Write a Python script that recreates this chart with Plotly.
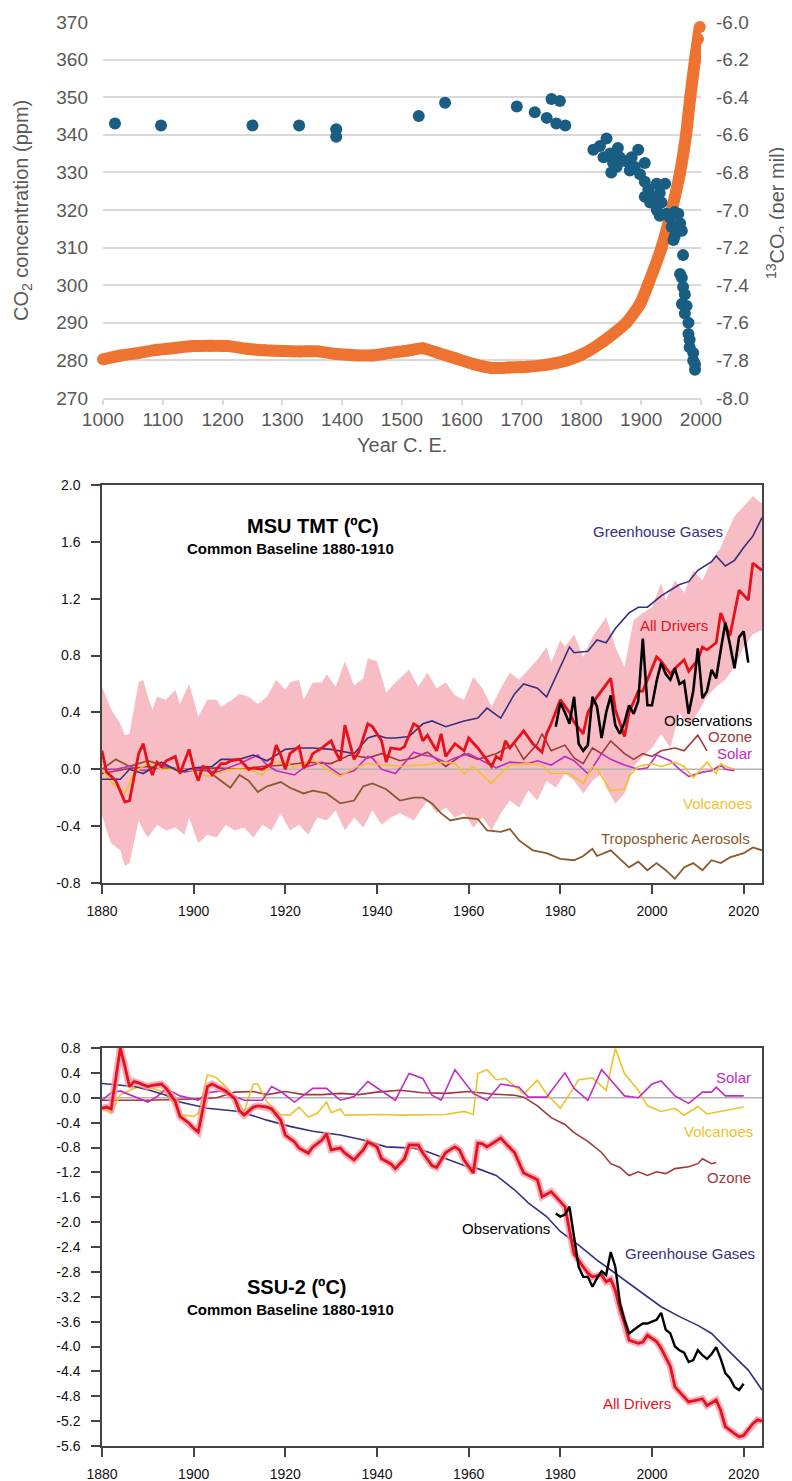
import plotly.graph_objects as go

# ---------------- Panel 1: CO2 and 13CO2 ----------------
co2_years = [1000, 1030, 1060, 1090, 1120, 1150, 1180, 1210, 1240, 1270, 1300, 1330, 1360, 1390,
             1420, 1450, 1480, 1510, 1535, 1560, 1590, 1620, 1650, 1680, 1710, 1740, 1775, 1800,
             1836, 1875, 1898, 1911, 1934, 1951, 1965, 1975, 1982, 1990, 1995, 1998]
co2_ppm = [280.3, 281.3, 282.0, 282.8, 283.3, 283.8, 283.9, 283.8, 283.1, 282.7, 282.5, 282.4, 282.4, 281.7,
           281.4, 281.3, 282.0, 282.6, 283.2, 282.0, 280.5, 279.0, 278.0, 278.1, 278.3, 278.8, 280.0, 281.5,
           285.0, 290.0, 295.0, 300.0, 310.0, 320.0, 330.0, 340.0, 350.0, 360.0, 365.5, 368.7]

d13c_years = [1020, 1097, 1250, 1328, 1390, 1390, 1528, 1572, 1692, 1722, 1750, 1764, 1742, 1758, 1773,
              1820, 1831, 1842, 1837, 1848, 1853, 1850, 1861, 1864, 1859, 1873, 1884, 1881, 1889, 1895,
              1906, 1898, 1906, 1912, 1906, 1915, 1926, 1940, 1931, 1923, 1934, 1926, 1931, 1942, 1948,
              1956, 1962, 1951, 1959, 1965, 1956, 1954, 1968, 1970, 1965, 1968, 1970, 1973, 1968, 1976,
              1973, 1979, 1979, 1981, 1981, 1987, 1987, 1990, 1990]
d13c_vals = [-6.54, -6.55, -6.55, -6.55, -6.57, -6.61, -6.50, -6.43, -6.45, -6.48, -6.41, -6.42, -6.51, -6.54, -6.55,
             -6.68, -6.66, -6.62, -6.72, -6.70, -6.75, -6.80, -6.67, -6.72, -6.77, -6.74, -6.72, -6.79, -6.77, -6.68,
             -6.75, -6.81, -6.85, -6.89, -6.93, -6.96, -6.86, -6.86, -6.91, -6.93, -6.96, -7.00, -7.03, -7.02, -7.04,
             -7.01, -7.02, -7.09, -7.09, -7.07, -7.14, -7.16, -7.11, -7.24, -7.34, -7.36, -7.41, -7.45, -7.50, -7.51,
             -7.55, -7.60, -7.66, -7.69, -7.73, -7.76, -7.80, -7.82, -7.85]

top_xticks = [1000, 1100, 1200, 1300, 1400, 1500, 1600, 1700, 1800, 1900, 2000]
top_left_ticks = [270, 280, 290, 300, 310, 320, 330, 340, 350, 360, 370]
top_right_ticks = [-8.0, -7.8, -7.6, -7.4, -7.2, -7.0, -6.8, -6.6, -6.4, -6.2, -6.0]

# ---------------- Panel 2: MSU TMT ----------------
tmt_band_up_years = [1880, 1882, 1884, 1885, 1886, 1888, 1889, 1890, 1891, 1892, 1894, 1896, 1897, 1899, 1900,
                     1901, 1903, 1905, 1906, 1908, 1910, 1912, 1914, 1916, 1918, 1920, 1921, 1923, 1924, 1926,
                     1928, 1929, 1931, 1933, 1935, 1937, 1938, 1940, 1942, 1944, 1947, 1949, 1951, 1953, 1955,
                     1957, 1959, 1961, 1963, 1965, 1967, 1969, 1971, 1973, 1975, 1977, 1978, 1980, 1981, 1983,
                     1985, 1987, 1989, 1990, 1992, 1994, 1996, 1998, 2000, 2002, 2003, 2005, 2007, 2009, 2011,
                     2013, 2015, 2016, 2018, 2020, 2021, 2022, 2024]
tmt_band_up = [0.58, 0.42, 0.32, 0.24, 0.25, 0.61, 0.63, 0.51, 0.42, 0.51, 0.49, 0.56, 0.46, 0.60, 0.49,
               0.37, 0.49, 0.49, 0.44, 0.48, 0.53, 0.51, 0.46, 0.51, 0.63, 0.56, 0.61, 0.63, 0.49, 0.61,
               0.61, 0.67, 0.58, 0.76, 0.59, 0.64, 0.78, 0.76, 0.54, 0.61, 0.70, 0.58, 0.68, 0.57, 0.61,
               0.52, 0.49, 0.65, 0.57, 0.44, 0.57, 0.68, 0.63, 0.70, 0.77, 0.86, 0.75, 0.91, 0.86, 0.95,
               0.79, 0.93, 1.02, 1.07, 0.86, 0.72, 1.05, 1.10, 1.14, 1.31, 1.19, 1.33, 1.24, 1.40, 1.33,
               1.47, 1.56, 1.64, 1.78, 1.85, 1.89, 1.92, 1.87]
tmt_band_lo_years = [1880, 1881, 1882, 1884, 1885, 1886, 1888, 1889, 1890, 1892, 1894, 1896, 1898, 1899, 1901,
                     1903, 1905, 1907, 1909, 1911, 1913, 1915, 1917, 1919, 1921, 1923, 1925, 1927, 1929, 1931,
                     1933, 1935, 1937, 1939, 1941, 1943, 1945, 1948, 1951, 1953, 1955, 1957, 1959, 1961, 1963,
                     1965, 1967, 1969, 1971, 1973, 1975, 1977, 1979, 1981, 1983, 1985, 1987, 1989, 1990, 1992,
                     1994, 1996, 1998, 2000, 2002, 2004, 2006, 2008, 2010, 2012, 2014, 2016, 2018, 2020, 2022,
                     2024]
tmt_band_lo = [-0.32, -0.43, -0.52, -0.57, -0.68, -0.66, -0.36, -0.43, -0.48, -0.39, -0.43, -0.41, -0.46, -0.34, -0.52,
               -0.46, -0.48, -0.39, -0.43, -0.41, -0.48, -0.39, -0.43, -0.31, -0.43, -0.39, -0.46, -0.34, -0.36, -0.29,
               -0.43, -0.34, -0.41, -0.29, -0.39, -0.34, -0.31, -0.36, -0.22, -0.31, -0.27, -0.34, -0.31, -0.41, -0.34,
               -0.43, -0.31, -0.22, -0.27, -0.15, -0.22, -0.08, -0.13, -0.03, -0.08, -0.17, -0.08, -0.03, -0.13, -0.24,
               -0.17, 0.02, 0.09, 0.15, 0.25, 0.15, 0.40, 0.30, 0.40, 0.51, 0.58, 0.63, 0.72, 0.86, 0.95,
               0.98]

tmt_all_years = [1880, 1881, 1883, 1885, 1886, 1888, 1889, 1890, 1891, 1892, 1893, 1894, 1896, 1897, 1899,
                 1900, 1901, 1902, 1903, 1904, 1906, 1907, 1908, 1910, 1912, 1913, 1915, 1917, 1918, 1919,
                 1920, 1921, 1923, 1924, 1925, 1926, 1928, 1930, 1931, 1932, 1933, 1935, 1936, 1938, 1939,
                 1941, 1942, 1943, 1945, 1946, 1948, 1949, 1950, 1951, 1953, 1954, 1955, 1957, 1959, 1960,
                 1962, 1964, 1965, 1966, 1967, 1968, 1969, 1972, 1974, 1976, 1977, 1978, 1980, 1982, 1983,
                 1985, 1986, 1988, 1991, 1992, 1994, 1995, 1997, 1998, 1999, 2001, 2002, 2004, 2005, 2007,
                 2008, 2010, 2011, 2012, 2014, 2015, 2017, 2019, 2021, 2022, 2024]
tmt_all = [0.13, -0.02, -0.08, -0.23, -0.22, 0.11, 0.18, 0.04, -0.04, 0.05, 0.02, 0.06, 0.09, -0.03, 0.14,
           0.01, -0.08, 0.02, 0.01, -0.04, 0.04, 0.04, 0.06, 0.07, 0.00, 0.01, 0.00, 0.04, 0.17, 0.10,
           0.00, 0.11, 0.16, 0.01, 0.04, 0.11, 0.15, 0.20, 0.12, 0.06, 0.31, 0.07, 0.12, 0.32, 0.30,
           0.20, 0.05, 0.15, 0.14, 0.16, 0.32, 0.30, 0.20, 0.24, 0.13, 0.25, 0.09, 0.18, 0.13, 0.22,
           0.15, 0.06, 0.02, 0.09, 0.07, 0.20, 0.15, 0.27, 0.18, 0.12, 0.25, 0.32, 0.49, 0.40, 0.33,
           0.25, 0.40, 0.51, 0.64, 0.42, 0.23, 0.40, 0.55, 0.55, 0.63, 0.79, 0.76, 0.67, 0.71, 0.77,
           0.69, 0.77, 0.86, 0.84, 0.89, 1.10, 0.94, 1.26, 1.19, 1.45, 1.40]

tmt_ghg_years = [1880, 1884, 1886, 1889, 1893, 1897, 1900, 1904, 1906, 1910, 1913, 1916, 1920, 1923, 1926,
                 1930, 1935, 1938, 1940, 1942, 1944, 1947, 1950, 1952, 1955, 1959, 1962, 1964, 1967, 1970,
                 1972, 1975, 1977, 1979, 1982, 1983, 1986, 1988, 1990, 1992, 1995, 1997, 1999, 2002, 2004,
                 2006, 2008, 2010, 2013, 2014, 2016, 2018, 2020, 2022, 2024]
tmt_ghg = [-0.07, -0.07, 0.00, -0.03, 0.05, -0.02, 0.01, 0.02, 0.07, 0.07, 0.10, 0.06, 0.14, 0.15, 0.15,
           0.14, 0.11, 0.22, 0.24, 0.22, 0.22, 0.23, 0.32, 0.34, 0.30, 0.34, 0.36, 0.43, 0.36, 0.53,
           0.60, 0.57, 0.51, 0.65, 0.86, 0.82, 0.83, 0.91, 0.89, 0.99, 1.10, 1.14, 1.14, 1.22, 1.26,
           1.30, 1.32, 1.40, 1.46, 1.50, 1.43, 1.47, 1.56, 1.64, 1.77]

tmt_aer_years = [1880, 1883, 1886, 1890, 1894, 1898, 1903, 1906, 1908, 1910, 1912, 1914, 1916, 1919, 1921,
                 1924, 1926, 1929, 1932, 1935, 1937, 1939, 1942, 1945, 1948, 1950, 1952, 1954, 1956, 1959,
                 1962, 1964, 1967, 1969, 1971, 1974, 1977, 1980, 1983, 1985, 1987, 1988, 1991, 1993, 1995,
                 1997, 1999, 2001, 2003, 2005, 2007, 2009, 2011, 2013, 2015, 2017, 2020, 2022, 2024]
tmt_aer = [0.00, 0.07, 0.02, 0.06, 0.02, -0.01, -0.01, -0.08, -0.13, -0.04, -0.08, -0.16, -0.12, -0.09, -0.13,
           -0.17, -0.15, -0.17, -0.24, -0.22, -0.12, -0.10, -0.14, -0.22, -0.20, -0.20, -0.24, -0.31, -0.36, -0.34,
           -0.35, -0.43, -0.44, -0.42, -0.50, -0.57, -0.59, -0.63, -0.64, -0.61, -0.56, -0.61, -0.57, -0.63, -0.69,
           -0.65, -0.71, -0.66, -0.71, -0.77, -0.69, -0.66, -0.71, -0.64, -0.66, -0.62, -0.59, -0.55, -0.57]

tmt_oz_years = [1880, 1885, 1890, 1895, 1900, 1905, 1910, 1915, 1920, 1925, 1930, 1934, 1938, 1941, 1945,
                1948, 1951, 1955, 1959, 1962, 1966, 1970, 1972, 1975, 1976, 1978, 1981, 1983, 1985, 1987,
                1989, 1991, 1994, 1996, 1998, 2000, 2002, 2005, 2007, 2009, 2010, 2012]
tmt_oz = [-0.03, 0.00, 0.02, 0.00, 0.00, 0.01, 0.00, 0.02, 0.03, 0.05, 0.04, 0.10, 0.08, 0.11, 0.06,
          0.08, 0.12, 0.02, 0.11, 0.07, 0.11, 0.18, 0.07, 0.18, 0.25, 0.13, 0.17, 0.08, 0.04, 0.15,
          0.11, 0.20, 0.11, 0.07, 0.11, 0.09, 0.13, 0.15, 0.13, 0.20, 0.24, 0.13]

tmt_sol_years = [1880, 1883, 1886, 1889, 1894, 1898, 1901, 1905, 1910, 1914, 1916, 1918, 1922, 1924, 1928,
                 1932, 1935, 1938, 1939, 1941, 1944, 1948, 1950, 1952, 1955, 1957, 1960, 1963, 1966, 1969,
                 1973, 1975, 1978, 1981, 1983, 1986, 1987, 1989, 1991, 1994, 1997, 1999, 2001, 2004, 2006,
                 2008, 2011, 2013, 2015, 2016, 2018]
tmt_sol = [0.00, 0.00, 0.02, -0.01, 0.02, -0.02, 0.00, -0.02, 0.04, 0.10, 0.03, -0.01, -0.04, 0.01, 0.05,
           -0.04, -0.01, 0.09, 0.08, 0.00, -0.03, 0.12, 0.10, 0.09, 0.05, 0.08, 0.11, 0.06, 0.01, 0.05,
           0.04, 0.06, 0.03, 0.09, 0.06, -0.03, 0.01, 0.11, 0.07, 0.03, 0.00, 0.01, 0.10, 0.06, 0.00,
           -0.05, -0.02, -0.01, 0.03, 0.00, -0.01]

tmt_vol_years = [1880, 1882, 1885, 1887, 1890, 1893, 1897, 1900, 1903, 1905, 1908, 1912, 1915, 1917, 1920,
                 1922, 1926, 1929, 1932, 1935, 1938, 1942, 1945, 1950, 1952, 1955, 1957, 1959, 1961, 1965,
                 1967, 1969, 1973, 1976, 1978, 1982, 1985, 1987, 1988, 1991, 1994, 1995, 1997, 2000, 2002,
                 2005, 2007, 2009, 2012, 2014, 2015, 2016, 2018]
tmt_vol = [0.00, -0.09, -0.17, -0.02, 0.04, 0.00, 0.00, -0.01, -0.05, -0.03, 0.00, 0.00, -0.04, 0.05, 0.05,
           0.01, 0.07, 0.00, -0.05, 0.01, 0.04, 0.03, 0.02, 0.03, 0.04, 0.05, 0.04, -0.03, 0.02, -0.10,
           -0.03, 0.03, 0.04, 0.03, -0.03, -0.03, -0.10, 0.02, 0.00, -0.15, -0.14, -0.05, 0.02, 0.04, 0.02,
           0.05, 0.02, -0.06, 0.05, -0.03, 0.04, 0.02, 0.00]

tmt_obs_years = list(range(1979, 2022))
tmt_obs = [0.30, 0.47, 0.40, 0.32, 0.51, 0.18, 0.13, 0.17, 0.51, 0.44, 0.22, 0.40, 0.52, 0.31, 0.25,
           0.33, 0.45, 0.39, 0.48, 0.92, 0.45, 0.45, 0.62, 0.75, 0.67, 0.63, 0.71, 0.60, 0.62, 0.39,
           0.55, 0.85, 0.50, 0.55, 0.70, 0.64, 0.84, 1.03, 0.88, 0.71, 0.93, 0.97, 0.75]

# ---------------- Panel 3: SSU-2 ----------------
ssu_all_years = [1880, 1881, 1882, 1884, 1885, 1886, 1887, 1888, 1890, 1891, 1893, 1894, 1896, 1897, 1899,
                 1900, 1901, 1903, 1904, 1906, 1907, 1909, 1910, 1911, 1913, 1914, 1916, 1917, 1919, 1920,
                 1922, 1923, 1925, 1926, 1928, 1929, 1930, 1932, 1933, 1935, 1937, 1938, 1940, 1941, 1943,
                 1944, 1946, 1947, 1949, 1950, 1952, 1953, 1955, 1957, 1958, 1959, 1961, 1962, 1963, 1964,
                 1966, 1967, 1968, 1970, 1972, 1975, 1976, 1978, 1980, 1981, 1982, 1983, 1985, 1986, 1987,
                 1989, 1990, 1991, 1992, 1993, 1994, 1995, 1997, 1998, 1999, 2001, 2002, 2004, 2005, 2007,
                 2008, 2010, 2011, 2012, 2014, 2015, 2016, 2018, 2019, 2020, 2022, 2023, 2024]
ssu_all = [-0.17, -0.15, -0.18, 0.80, 0.50, 0.18, 0.26, 0.24, 0.18, 0.20, 0.22, 0.15, -0.06, -0.30, -0.41,
           -0.49, -0.55, 0.18, 0.22, 0.14, 0.11, -0.02, -0.21, -0.28, -0.15, -0.13, -0.15, -0.18, -0.36, -0.60,
           -0.71, -0.81, -0.89, -0.79, -0.68, -0.58, -0.84, -0.81, -0.89, -1.00, -0.84, -0.71, -0.79, -0.98, -1.06,
           -1.14, -0.98, -0.76, -0.76, -0.89, -1.09, -1.12, -0.88, -0.79, -0.84, -1.00, -1.21, -0.73, -0.74, -0.79,
           -0.70, -0.65, -0.73, -0.88, -1.21, -1.32, -1.59, -1.51, -1.67, -1.75, -2.13, -2.51, -2.72, -2.82, -2.88,
           -2.85, -2.96, -2.92, -3.10, -3.40, -3.63, -3.90, -3.95, -3.93, -3.82, -3.92, -4.03, -4.32, -4.65, -4.81,
           -4.89, -4.86, -4.84, -4.95, -4.86, -5.03, -5.29, -5.40, -5.45, -5.43, -5.24, -5.18, -5.20]

ssu_ghg_years = [1880, 1884, 1887, 1890, 1894, 1897, 1903, 1910, 1916, 1921, 1926, 1932, 1937, 1942, 1948,
                 1951, 1955, 1959, 1962, 1966, 1970, 1973, 1977, 1980, 1984, 1988, 1991, 1995, 1999, 2002,
                 2006, 2010, 2013, 2017, 2021, 2024]
ssu_ghg = [0.23, 0.20, 0.18, 0.13, 0.04, -0.07, -0.17, -0.22, -0.36, -0.46, -0.54, -0.60, -0.68, -0.79, -0.81,
           -0.87, -0.98, -1.09, -1.14, -1.25, -1.48, -1.69, -1.91, -2.15, -2.37, -2.61, -2.77, -2.99, -3.20, -3.36,
           -3.52, -3.66, -3.79, -4.09, -4.38, -4.70]

ssu_sol_years = [1880, 1882, 1884, 1887, 1890, 1892, 1894, 1897, 1900, 1901, 1903, 1906, 1909, 1911, 1915,
                 1917, 1919, 1922, 1926, 1929, 1932, 1935, 1938, 1941, 1944, 1947, 1950, 1952, 1954, 1957,
                 1961, 1964, 1967, 1971, 1973, 1977, 1981, 1983, 1986, 1989, 1990, 1994, 1997, 2000, 2002,
                 2005, 2008, 2011, 2013, 2014, 2016, 2020]
ssu_sol = [-0.04, 0.08, 0.11, 0.02, -0.07, 0.02, 0.15, 0.03, -0.02, -0.04, 0.08, 0.11, 0.02, -0.04, -0.04,
           0.18, 0.10, -0.07, 0.15, 0.15, -0.04, 0.02, 0.26, 0.11, -0.04, 0.39, 0.31, 0.04, -0.04, 0.45,
           0.07, -0.04, 0.22, 0.17, 0.01, 0.01, 0.40, 0.15, -0.04, 0.45, 0.37, 0.03, 0.00, 0.22, 0.27,
           0.03, -0.09, 0.09, 0.09, 0.17, 0.03, 0.03]

ssu_vol_years = [1880, 1882, 1884, 1886, 1888, 1891, 1894, 1896, 1897, 1900, 1901, 1903, 1905, 1907, 1909,
                 1911, 1913, 1914, 1916, 1919, 1921, 1923, 1925, 1927, 1929, 1930, 1932, 1933, 1938, 1941,
                 1945, 1951, 1955, 1959, 1961, 1962, 1964, 1966, 1968, 1970, 1972, 1975, 1977, 1980, 1982,
                 1984, 1987, 1990, 1992, 1994, 1997, 1999, 2002, 2005, 2007, 2010, 2012, 2015, 2020]
ssu_vol = [-0.17, -0.25, 0.05, 0.12, 0.18, 0.15, 0.08, -0.14, -0.27, -0.30, -0.25, 0.37, 0.32, 0.18, 0.00,
           -0.22, 0.22, 0.22, -0.07, -0.27, -0.28, -0.15, -0.31, -0.25, -0.07, -0.24, -0.18, -0.28, -0.27, -0.27,
           -0.28, -0.27, -0.27, -0.22, -0.27, 0.39, 0.45, 0.29, 0.31, 0.19, 0.06, 0.28, 0.06, -0.17, 0.06,
           0.29, 0.32, 0.12, 0.79, 0.39, 0.12, -0.13, -0.22, -0.17, -0.28, -0.14, -0.26, -0.22, -0.15]

ssu_oz_years = [1880, 1890, 1900, 1905, 1909, 1913, 1916, 1920, 1924, 1928, 1932, 1936, 1940, 1945, 1950,
                1955, 1960, 1965, 1970, 1972, 1975, 1978, 1981, 1983, 1986, 1989, 1991, 1993, 1995, 1997,
                1999, 2001, 2003, 2005, 2008, 2010, 2011, 2013, 2014]
ssu_oz = [-0.04, -0.04, -0.02, 0.00, 0.09, 0.10, 0.05, 0.10, 0.05, 0.05, 0.07, 0.05, 0.09, 0.12, 0.08,
          0.07, 0.10, 0.06, 0.04, 0.01, -0.13, -0.32, -0.43, -0.56, -0.70, -0.88, -1.06, -1.12, -1.25, -1.19,
          -1.25, -1.19, -1.22, -1.14, -1.11, -1.06, -0.98, -1.06, -1.04]

ssu_obs_years = list(range(1979, 2021))
ssu_obs = [-1.86, -1.91, -1.88, -1.75, -2.24, -2.72, -2.88, -2.88, -3.04, -2.90, -2.79, -2.85, -2.48, -2.72,
           -3.30, -3.57, -3.79, -3.73, -3.68, -3.63, -3.63, -3.60, -3.57, -3.46, -3.73, -3.79, -4.00, -4.06,
           -4.10, -4.25, -4.22, -4.06, -4.14, -4.20, -4.12, -4.01, -4.20, -4.43, -4.51, -4.65, -4.70, -4.60]

low_xticks = [1880, 1900, 1920, 1940, 1960, 1980, 2000, 2020]
tmt_yticks = [-0.8, -0.4, 0.0, 0.4, 0.8, 1.2, 1.6, 2.0]
ssu_yticks = [-5.6, -5.2, -4.8, -4.4, -4.0, -3.6, -3.2, -2.8, -2.4, -2.0, -1.6, -1.2, -0.8, -0.4, 0.0, 0.4, 0.8]

# ---------------- styling ----------------
# The page body has an 8px margin, so the figure is drawn 8px in from the top-left corner.
OFF = 8
W, H = 792 - OFF, 1481 - OFF
FONT = "Liberation Sans"
C_GHG = "#35307f"
C_ALL = "#e8101a"
C_AER = "#8a5a2e"
C_OZ = "#a23838"
C_SOL = "#c02cc0"
C_VOL = "#f0c22a"
C_BAND = "#f8bcc5"
C_BLUE = "#195e82"
C_ORANGE = "#ee7331"
GRID = "#d9d9d9"
TXT = "#595959"


def px_to_paper_x(px):
    return (px - OFF) / W


def px_to_paper_y(py):
    return 1 - (py - OFF) / H


def fmt(v):
    return f"{v:.1f}"


fig = go.Figure()

# Panel 1 traces
fig.add_trace(go.Scatter(x=co2_years, y=co2_ppm, mode="lines+markers",
                         line=dict(color=C_ORANGE, width=12, shape="spline", smoothing=0.6),
                         marker=dict(color=C_ORANGE, size=12), xaxis="x", yaxis="y", showlegend=False,
                         cliponaxis=False))
fig.add_trace(go.Scatter(x=d13c_years, y=d13c_vals, mode="markers", marker=dict(color=C_BLUE, size=12),
                         xaxis="x", yaxis="y4", showlegend=False, cliponaxis=False))

# Panel 2 traces
band_x = tmt_band_up_years + tmt_band_lo_years[::-1]
band_y = tmt_band_up + tmt_band_lo[::-1]
fig.add_trace(go.Scatter(x=band_x, y=band_y, fill="toself", fillcolor=C_BAND, line=dict(width=0), mode="lines",
                         xaxis="x2", yaxis="y2", showlegend=False, hoverinfo="skip"))
fig.add_trace(go.Scatter(x=[low_xticks[0], 2024], y=[0, 0], mode="lines", line=dict(color="#b4b4b4", width=1.5),
                         xaxis="x2", yaxis="y2", showlegend=False))
for xs, ys, c, w in [(tmt_aer_years, tmt_aer, C_AER, 1.8), (tmt_oz_years, tmt_oz, C_OZ, 1.6),
                     (tmt_sol_years, tmt_sol, C_SOL, 1.6), (tmt_vol_years, tmt_vol, C_VOL, 1.6),
                     (tmt_ghg_years, tmt_ghg, C_GHG, 1.6), (tmt_all_years, tmt_all, C_ALL, 2.8),
                     (tmt_obs_years, tmt_obs, "#000000", 2.6)]:
    fig.add_trace(go.Scatter(x=xs, y=ys, mode="lines", line=dict(color=c, width=w), xaxis="x2", yaxis="y2",
                             showlegend=False))

# Panel 3 traces
fig.add_trace(go.Scatter(x=[low_xticks[0], 2024], y=[0, 0], mode="lines", line=dict(color="#b4b4b4", width=1.5),
                         xaxis="x3", yaxis="y3", showlegend=False))
for xs, ys, c, w in [(ssu_oz_years, ssu_oz, C_OZ, 1.6), (ssu_vol_years, ssu_vol, C_VOL, 1.6),
                     (ssu_sol_years, ssu_sol, C_SOL, 1.6), (ssu_ghg_years, ssu_ghg, C_GHG, 1.6)]:
    fig.add_trace(go.Scatter(x=xs, y=ys, mode="lines", line=dict(color=c, width=w), xaxis="x3", yaxis="y3",
                             showlegend=False))
fig.add_trace(go.Scatter(x=ssu_all_years, y=ssu_all, mode="lines", line=dict(color="rgba(248,150,165,0.75)", width=7),
                         xaxis="x3", yaxis="y3", showlegend=False))
fig.add_trace(go.Scatter(x=ssu_all_years, y=ssu_all, mode="lines", line=dict(color=C_ALL, width=2.8),
                         xaxis="x3", yaxis="y3", showlegend=False))
fig.add_trace(go.Scatter(x=ssu_obs_years, y=ssu_obs, mode="lines", line=dict(color="#000000", width=2.4),
                         xaxis="x3", yaxis="y3", showlegend=False))

top_font = dict(family=FONT, size=19, color=TXT)
low_font = dict(family=FONT, size=14, color="#111111")

low_x_common = dict(range=[1880, 2024], tickvals=low_xticks, ticktext=[str(v) for v in low_xticks],
                    ticks="outside", ticklen=9, tickwidth=1.5, tickcolor="#444444", showline=True, mirror=True,
                    linecolor="#444444", linewidth=1.5, showgrid=False, zeroline=False, tickfont=low_font,
                    ticklabelstandoff=5, automargin=False)

fig.update_layout(
    width=W, height=H, margin=dict(l=0, r=0, t=0, b=0, autoexpand=False),
    paper_bgcolor="white", plot_bgcolor="white", font=dict(family=FONT),
    xaxis=dict(domain=[px_to_paper_x(103), px_to_paper_x(701)], anchor="y", range=[1000, 2000],
               tickvals=top_xticks, ticktext=[str(v) for v in top_xticks], ticks="outside", ticklen=5,
               tickcolor=GRID, tickwidth=1.5, showline=True, linecolor=GRID, linewidth=1.5, showgrid=False,
               zeroline=False, tickfont=top_font, ticklabelstandoff=-2, automargin=False),
    yaxis=dict(domain=[px_to_paper_y(398), px_to_paper_y(22)], anchor="x", range=[270, 370],
               tickvals=top_left_ticks, ticktext=[str(v) for v in top_left_ticks], showgrid=True,
               gridcolor=GRID, gridwidth=1.5, zeroline=False, showline=False, ticks="", tickfont=top_font,
               ticklabelstandoff=14, automargin=False),
    yaxis4=dict(overlaying="y", side="right", anchor="x", range=[-8, -6], tickvals=top_right_ticks,
                ticktext=[fmt(v) for v in top_right_ticks], showgrid=False, zeroline=False, showline=False,
                ticks="", tickfont=top_font, ticklabelstandoff=14, automargin=False),
    xaxis2=dict(domain=[px_to_paper_x(102), px_to_paper_x(762)], anchor="y2", **low_x_common),
    yaxis2=dict(domain=[px_to_paper_y(883), px_to_paper_y(485)], anchor="x2", range=[-0.8, 2.0],
                tickvals=tmt_yticks, ticktext=[fmt(v) for v in tmt_yticks], ticks="outside", ticklen=9,
                tickwidth=1.5, tickcolor="#444444", showline=True, mirror=True, linecolor="#444444",
                linewidth=1.5, showgrid=False, zeroline=False, tickfont=low_font, ticklabelstandoff=8,
                automargin=False),
    xaxis3=dict(domain=[px_to_paper_x(102), px_to_paper_x(762)], anchor="y3", **low_x_common),
    yaxis3=dict(domain=[px_to_paper_y(1446), px_to_paper_y(1048)], anchor="x3", range=[-5.6, 0.8],
                tickvals=ssu_yticks, ticktext=[fmt(v) for v in ssu_yticks], ticks="outside", ticklen=9,
                tickwidth=1.5, tickcolor="#444444", showline=True, mirror=True, linecolor="#444444",
                linewidth=1.5, showgrid=False, zeroline=False, tickfont=low_font, ticklabelstandoff=8,
                automargin=False),
)

ann = []
# Panel 1 axis titles
ann.append(dict(text="Year C. E.", x=px_to_paper_x(402), y=px_to_paper_y(445), xref="paper", yref="paper",
                showarrow=False, font=dict(family=FONT, size=20, color=TXT), xanchor="center", yanchor="middle"))
ann.append(dict(text="CO<sub>2</sub> concentration (ppm)", x=px_to_paper_x(22), y=px_to_paper_y(211), xref="paper",
                yref="paper", showarrow=False, textangle=-90, font=dict(family=FONT, size=20, color=TXT),
                xanchor="center", yanchor="middle"))
ann.append(dict(text="<sup>13</sup>CO<sub>2</sub> (per mil)", x=px_to_paper_x(777), y=px_to_paper_y(213),
                xref="paper", yref="paper", showarrow=False, textangle=-90,
                font=dict(family=FONT, size=20, color=TXT), xanchor="center", yanchor="middle"))


def lab(text, x, y, color, ax, yx="y2", xx="x2", size=15, bold=False):
    t = f"<b>{text}</b>" if bold else text
    ann.append(dict(text=t, x=x, y=y, xref=xx, yref=yx, showarrow=False, xanchor=ax, yanchor="middle",
                    font=dict(family=FONT, size=size, color=color)))


# Panel 2 labels
lab("MSU TMT (ºC)", 1911.2, 1.71, "#000000", "left", size=20, bold=True)
lab("Common Baseline 1880-1910", 1898.1, 1.55, "#000000", "left", size=15, bold=True)
lab("Greenhouse Gases", 2015.9, 1.67, C_GHG, "right")
lab("All Drivers", 2012.6, 1.01, C_ALL, "right")
lab("Observations", 2022.2, 0.345, "#000000", "right")
lab("Ozone", 2022.2, 0.23, C_OZ, "right")
lab("Solar", 2022.2, 0.11, C_SOL, "right")
lab("Volcanoes", 2022.2, -0.24, C_VOL, "right")
lab("Tropospheric Aerosols", 2021.8, -0.49, C_AER, "right")

# Panel 3 labels
lab("SSU-2 (ºC)", 1911.2, -3.04, "#000000", "left", yx="y3", xx="x3", size=20, bold=True)
lab("Common Baseline 1880-1910", 1898.1, -3.41, "#000000", "left", yx="y3", xx="x3", size=15, bold=True)
lab("Solar", 2022.0, 0.33, C_SOL, "right", yx="y3", xx="x3")
lab("Volcanoes", 2022.4, -0.55, C_VOL, "right", yx="y3", xx="x3")
lab("Ozone", 2022.0, -1.29, C_OZ, "right", yx="y3", xx="x3")
lab("Observations", 1978.1, -2.11, "#000000", "right", yx="y3", xx="x3")
lab("Greenhouse Gases", 2022.9, -2.50, C_GHG, "right", yx="y3", xx="x3")
lab("All Drivers", 2004.5, -4.91, C_ALL, "right", yx="y3", xx="x3")

fig.update_layout(annotations=ann)
fig.write_html("out.html")
